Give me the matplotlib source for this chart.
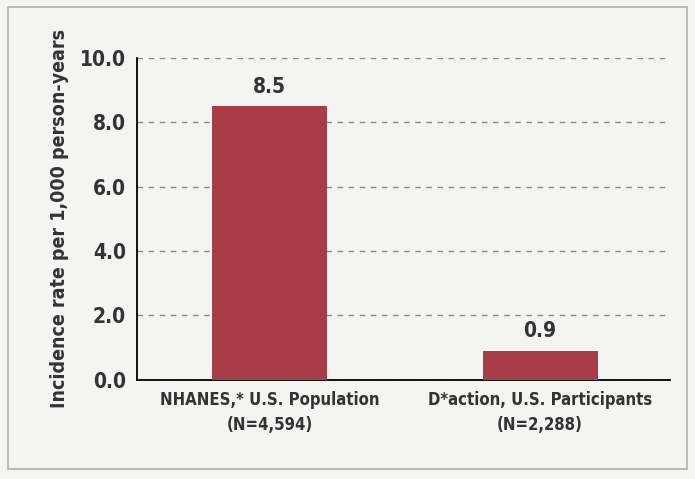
import matplotlib
matplotlib.use("Agg")
import matplotlib.pyplot as plt
from matplotlib.patches import Rectangle

categories = ["NHANES,* U.S. Population\n(N=4,594)", "D*action, U.S. Participants\n(N=2,288)"]
values = [8.5, 0.9]
yticks = [0.0, 2.0, 4.0, 6.0, 8.0, 10.0]

fig = plt.figure(figsize=(6.95, 4.79), dpi=100)
fig.patch.set_facecolor("#f4f4f2")
fig.patches.append(Rectangle((0.012, 0.02), 0.976, 0.965, transform=fig.transFigure,
                             fill=False, edgecolor="#b0b0b0", linewidth=1.2))
ax = fig.add_axes([0.197, 0.207, 0.767, 0.672])
ax.set_facecolor("#f4f4f2")
fs = dict(fontweight="bold", fontstretch="condensed", family="DejaVu Sans")
x = range(len(values))
ax.bar(x, values, width=0.425, color="#a83c48", zorder=3)
for xi, v in zip(x, values):
    ax.text(xi, v + 0.3, f"{v:.1f}", ha="center", va="bottom", fontsize=15, color="#333333", **fs)
ax.set_xlim(-0.49, 1.48)
ax.set_ylim(0, 10)
ax.set_yticks(yticks)
ax.set_yticklabels([f"{t:.1f}" for t in yticks], fontsize=15, color="#333333", **fs)
ax.set_xticks(list(x))
ax.set_xticklabels(categories, fontsize=12, color="#333333", linespacing=1.5, **fs)
ax.tick_params(axis="both", length=0, pad=8)
ax.yaxis.grid(True, linestyle=(0, (4, 4)), color="#888888", linewidth=1, zorder=0)
for s in ["top", "right"]:
    ax.spines[s].set_visible(False)
ax.spines["left"].set_linewidth(1.3)
ax.spines["bottom"].set_linewidth(1.3)
ax.set_ylabel("Incidence rate per 1,000 person-years", fontsize=14, color="#333333", labelpad=8, **fs)
fig.savefig("out.png", dpi=100, facecolor=fig.get_facecolor())
